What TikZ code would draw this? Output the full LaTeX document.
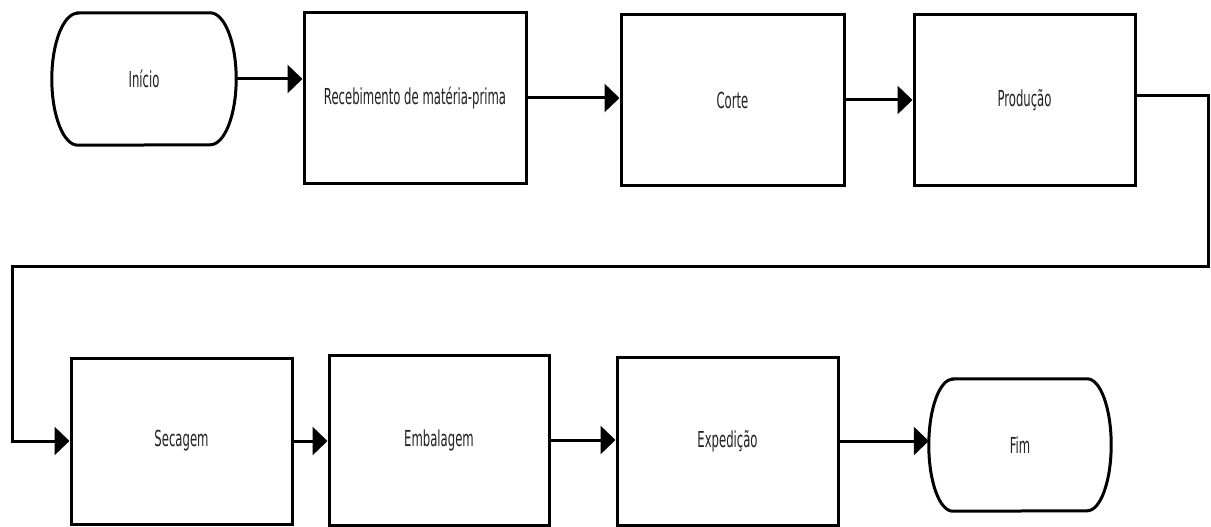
\documentclass[tikz,border=0pt]{standalone}
\usepackage{fontspec}
\setmainfont{DejaVu Sans}[FakeStretch=0.53]
\usetikzlibrary{arrows.meta,calc}
\definecolor{txt}{HTML}{222222}
\tikzset{
  stepbox/.style={draw=black, line width=3pt, rectangle, fill=white, text=txt,
    font=\fontsize{22}{26}\selectfont, inner sep=0pt},
  termnode/.style={draw=none, rectangle, text=txt,
    font=\fontsize{22}{26}\selectfont, inner sep=0pt},
  termline/.style={draw=black, line width=3pt},
  flow/.style={draw=black, line width=3pt, -{Triangle[length=15pt,width=28pt]}},
}
\newcommand{\terminal}[2]{% #1 node name, #2 x radius
  \draw[termline] ($(#1.north west)+(#2,0)$) -- ($(#1.north east)-(#2,0)$)
    arc[start angle=90, end angle=-90, x radius=#2, y radius={0.5*(\termh)}]
    -- ($(#1.south west)+(#2,0)$)
    arc[start angle=270, end angle=90, x radius=#2, y radius={0.5*(\termh)}]
    -- cycle;
}
\begin{document}
\begin{tikzpicture}[x=1pt, y=-1pt]
\useasboundingbox (0,0) rectangle (1211,527);
\fill[white] (0,0) rectangle (1211,527);

% top row
\node[termnode, minimum width=184pt, minimum height=132pt] (ini) at (144,79) {Início};
\node[stepbox, minimum width=222pt, minimum height=170pt] (rec) at (415,98) {Recebimento de matéria-prima};
\node[stepbox, minimum width=223pt, minimum height=170pt] (corte) at (732.5,100) {Corte};
\node[stepbox, minimum width=221pt, minimum height=170pt] (prod) at (1024.5,100) {Produção};

% bottom row
\node[stepbox, minimum width=221pt, minimum height=166pt] (sec) at (181.5,441) {Secagem};
\node[stepbox, minimum width=220pt, minimum height=170pt] (emb) at (439,440) {Embalagem};
\node[stepbox, minimum width=221pt, minimum height=168pt] (exp) at (727.5,441) {Expedição};
\node[termnode, minimum width=182pt, minimum height=132pt] (fim) at (1020,445) {Fim};

% terminal outlines
\def\termh{132pt}
\terminal{ini}{26pt}
\terminal{fim}{24pt}

% connectors
\draw[flow] (ini.east) -- (rec.west |- ini.east);
\draw[flow] (rec.east) -- (corte.west |- rec.east);
\draw[flow] (corte.east) -- (prod.west |- corte.east);

\coordinate (c1) at (1208,96);
\coordinate (c2) at (1208,266);
\coordinate (c3) at (12,266);
\draw[flow] (prod.east |- c1) -- (c1) -- (c2) -- (c3) |- (sec.west);

\draw[flow] (sec.east) -- (emb.west |- sec.east);
\draw[flow] (emb.east) -- (exp.west |- emb.east);
\draw[flow] (exp.east) -- (fim.west |- exp.east);
\end{tikzpicture}
\end{document}
